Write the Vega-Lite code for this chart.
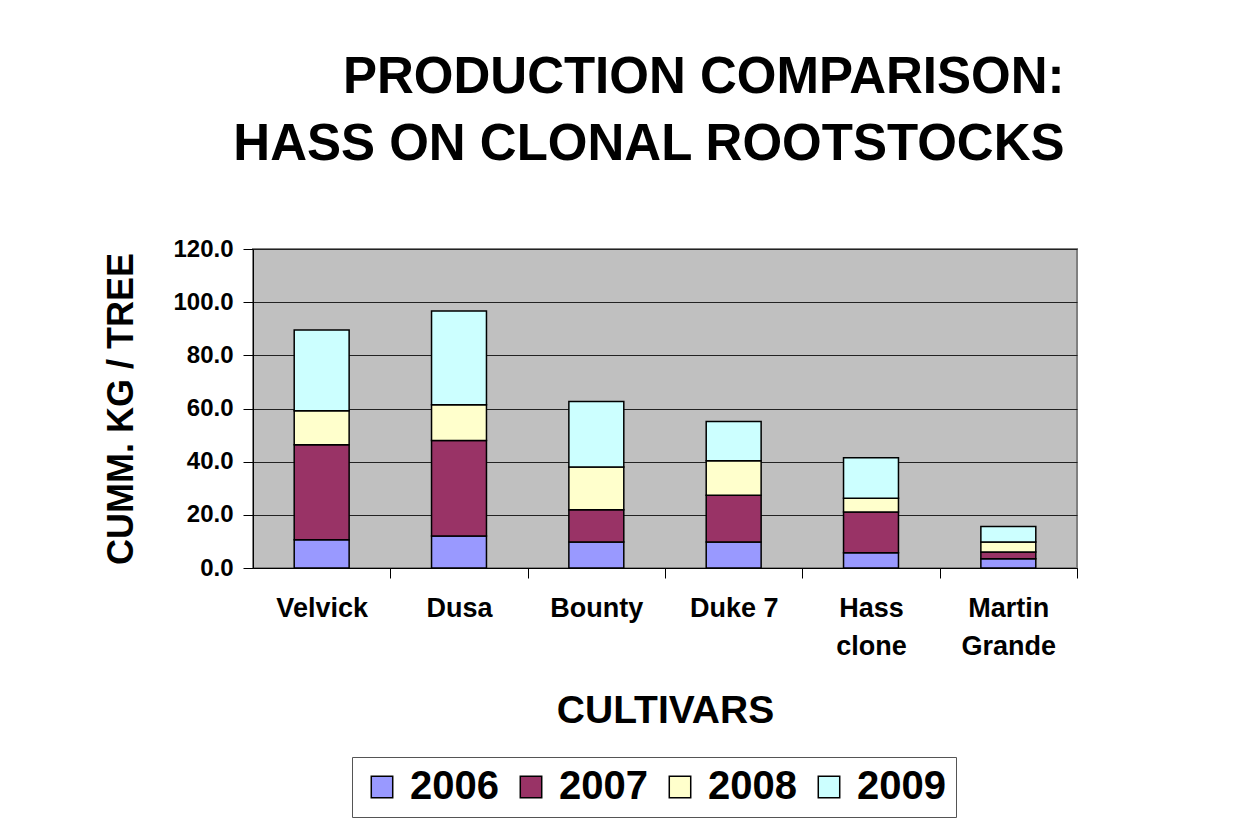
{
  "$schema": "https://vega.github.io/schema/vega-lite/v6.json",
  "width": 824,
  "height": 319,
  "padding": {"left": 103, "top": 52, "right": 10, "bottom": 5},
  "background": "white",
  "title": {
    "text": ["PRODUCTION COMPARISON:", "HASS ON CLONAL ROOTSTOCKS"],
    "font": "Liberation Sans",
    "fontWeight": "bold",
    "fontSize": 51,
    "lineHeight": 67,
    "color": "black",
    "anchor": "end",
    "dx": -13,
    "offset": 66
  },
  "data": {
    "values": [
      {"cultivar": "Velvick", "year": "2006", "kg": 10.6},
      {"cultivar": "Velvick", "year": "2007", "kg": 35.8},
      {"cultivar": "Velvick", "year": "2008", "kg": 12.8},
      {"cultivar": "Velvick", "year": "2009", "kg": 30.3},
      {"cultivar": "Dusa", "year": "2006", "kg": 12.0},
      {"cultivar": "Dusa", "year": "2007", "kg": 36.0},
      {"cultivar": "Dusa", "year": "2008", "kg": 13.4},
      {"cultivar": "Dusa", "year": "2009", "kg": 35.3},
      {"cultivar": "Bounty", "year": "2006", "kg": 9.8},
      {"cultivar": "Bounty", "year": "2007", "kg": 12.1},
      {"cultivar": "Bounty", "year": "2008", "kg": 16.1},
      {"cultivar": "Bounty", "year": "2009", "kg": 24.6},
      {"cultivar": "Duke 7", "year": "2006", "kg": 9.8},
      {"cultivar": "Duke 7", "year": "2007", "kg": 17.6},
      {"cultivar": "Duke 7", "year": "2008", "kg": 12.9},
      {"cultivar": "Duke 7", "year": "2009", "kg": 14.8},
      {"cultivar": "Hass clone", "year": "2006", "kg": 5.7},
      {"cultivar": "Hass clone", "year": "2007", "kg": 15.4},
      {"cultivar": "Hass clone", "year": "2008", "kg": 5.1},
      {"cultivar": "Hass clone", "year": "2009", "kg": 15.3},
      {"cultivar": "Martin Grande", "year": "2006", "kg": 3.5},
      {"cultivar": "Martin Grande", "year": "2007", "kg": 2.5},
      {"cultivar": "Martin Grande", "year": "2008", "kg": 3.8},
      {"cultivar": "Martin Grande", "year": "2009", "kg": 5.8}
    ]
  },
  "mark": {"type": "bar", "stroke": "black", "strokeWidth": 1.5},
  "encoding": {
    "x": {
      "field": "cultivar",
      "type": "nominal",
      "sort": ["Velvick", "Dusa", "Bounty", "Duke 7", "Hass clone", "Martin Grande"],
      "scale": {"paddingInner": 0.6, "paddingOuter": 0.3},
      "axis": {
        "title": "CULTIVARS",
        "titleFont": "Liberation Sans",
        "titleFontWeight": "bold",
        "titleFontSize": 39,
        "titleColor": "black",
        "titlePadding": 32,
        "labelFont": "Liberation Sans",
        "labelFontWeight": "bold",
        "labelFontSize": 27,
        "labelColor": "black",
        "labelAngle": 0,
        "labelPadding": 17,
        "labelLineHeight": 38,
        "labelOffset": -68.7,
        "labelExpr": "datum.label == 'Hass clone' ? ['Hass', 'clone'] : datum.label == 'Martin Grande' ? ['Martin', 'Grande'] : datum.label",
        "tickOffset": 68.7,
        "tickSize": 10,
        "tickColor": "black",
        "domainColor": "black",
        "grid": false
      }
    },
    "y": {
      "field": "kg",
      "type": "quantitative",
      "aggregate": "sum",
      "scale": {"domain": [0, 120]},
      "axis": {
        "title": "CUMM. KG / TREE",
        "titleFont": "Liberation Sans",
        "titleFontWeight": "bold",
        "titleFontSize": 36,
        "titleColor": "black",
        "titlePadding": 32,
        "values": [0, 20, 40, 60, 80, 100, 120],
        "format": ".1f",
        "labelFont": "Liberation Sans",
        "labelFontWeight": "bold",
        "labelFontSize": 24,
        "labelColor": "black",
        "labelPadding": 10,
        "tickSize": 10,
        "tickColor": "black",
        "domainColor": "black",
        "grid": true,
        "gridColor": "#222222",
        "gridWidth": 1.2
      }
    },
    "color": {
      "field": "year",
      "type": "nominal",
      "scale": {
        "domain": ["2006", "2007", "2008", "2009"],
        "range": ["#9999ff", "#993366", "#ffffcc", "#ccffff"]
      },
      "legend": {
        "title": null,
        "orient": "none",
        "legendX": 99,
        "legendY": 508,
        "direction": "horizontal",
        "columns": 4,
        "symbolType": "square",
        "symbolSize": 460,
        "symbolStrokeColor": "black",
        "symbolStrokeWidth": 1.5,
        "labelFont": "Liberation Sans",
        "labelFontWeight": "bold",
        "labelFontSize": 40,
        "labelColor": "black",
        "labelOffset": 8,
        "columnPadding": 12,
        "padding": 10,
        "strokeColor": "#555555",
        "fillColor": "white"
      }
    },
    "order": {"field": "year", "sort": "ascending"}
  },
  "config": {
    "view": {"fill": "#c0c0c0", "stroke": "#808080", "strokeWidth": 2}
  }
}
